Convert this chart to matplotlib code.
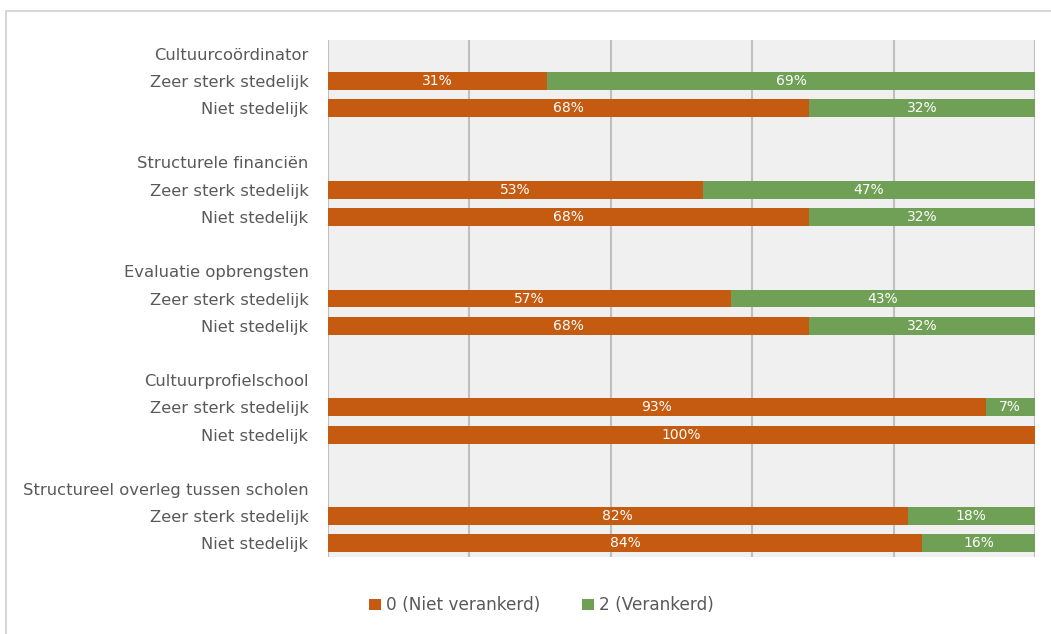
import matplotlib.pyplot as plt
from matplotlib.patches import Rectangle

groups = ['Cultuurcoördinator', 'Structurele financiën', 'Evaluatie opbrengsten',
          'Cultuurprofielschool', 'Structureel overleg tussen scholen']
sub_labels = ['Zeer sterk stedelijk', 'Niet stedelijk']

# percentages per group: [zeer sterk stedelijk, niet stedelijk]
niet_verankerd = [[31, 68], [53, 68], [57, 68], [93, 100], [82, 84]]
verankerd = [[69, 32], [47, 32], [43, 32], [7, 0], [18, 16]]

series_names = ['0 (Niet verankerd)', '2 (Verankerd)']
colors = ['#C55A11', '#70A055']
text_color = '#595959'

plt.rcParams['font.family'] = ['DejaVu Sans']

fig = plt.figure(figsize=(10.51, 6.34), dpi=100)
ax = fig.add_axes([328 / 1051, 1 - 557 / 634, (1035 - 328) / 1051, (557 - 40) / 634])
ax.set_facecolor('#F0F0F0')

# build the row layout: header, two bars, blank
labels = []
bar_rows = []
row = 0
for g, name in enumerate(groups):
    labels.append((row, name))
    row += 1
    for s, sub in enumerate(sub_labels):
        labels.append((row, sub))
        bar_rows.append((row, niet_verankerd[g][s], verankerd[g][s]))
        row += 1
    if g < len(groups) - 1:
        row += 1
n_rows = row

ys = [r[0] for r in bar_rows]
left_vals = [r[1] for r in bar_rows]
right_vals = [r[2] for r in bar_rows]

b1 = ax.barh(ys, left_vals, height=0.66, color=colors[0], label=series_names[0], zorder=3)
b2 = ax.barh(ys, right_vals, left=left_vals, height=0.66, color=colors[1], label=series_names[1], zorder=3)

for bars, vals in [(b1, left_vals), (b2, right_vals)]:
    for bar, v in zip(bars, vals):
        if v > 0:
            ax.text(bar.get_x() + bar.get_width() / 2, bar.get_y() + bar.get_height() / 2,
                    f'{v}%', ha='center', va='center', color='white', fontsize=10, zorder=4)

ax.set_xlim(0, 100)
ax.set_ylim(n_rows - 0.5, -0.5)
ax.set_xticks([0, 20, 40, 60, 80, 100])
ax.set_xticklabels([])
ax.tick_params(axis='both', length=0)
ax.grid(axis='x', color='#BFBFBF', linewidth=1.5, zorder=0)
ax.set_yticks([l[0] for l in labels])
ax.set_yticklabels([l[1] for l in labels], fontsize=11.8, color=text_color)
ax.tick_params(axis='y', pad=14)
for sp in ax.spines.values():
    sp.set_visible(False)

leg = fig.legend(handles=[b1, b2], loc='center', bbox_to_anchor=(0.515, 0.045), ncol=2,
                 frameon=False, fontsize=12.2, handlelength=0.7, handleheight=0.7,
                 handletextpad=0.3, columnspacing=2.5)
for t in leg.get_texts():
    t.set_color(text_color)

# outer chart border
fig.patches.append(Rectangle((6 / 1051, -0.1), 1.2, 1 - 11 / 634 + 0.1, transform=fig.transFigure,
                             fill=False, edgecolor='#D0D0D0', linewidth=1.2))

fig.savefig('out.png', dpi=100)
